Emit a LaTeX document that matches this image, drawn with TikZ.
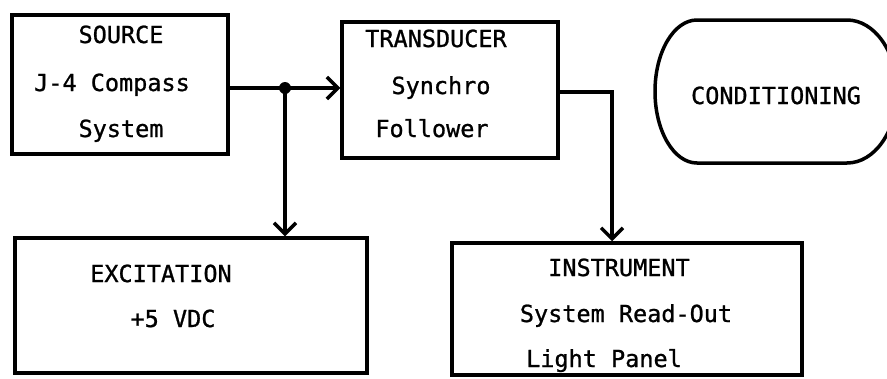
\documentclass[tikz,border=0pt]{standalone}
\usepackage{fontspec}
\newfontfamily\lblfont[FakeBold=1]{DejaVu Sans Mono}
\usetikzlibrary{arrows.meta}
\tikzset{
  box/.style={draw=black, line width=3.5pt, rectangle, inner sep=0pt},
  lbl/.style={font=\lblfont\fontsize{23.5}{26}\selectfont, anchor=base, inner sep=0pt},
  wire/.style={line width=3.5pt, line cap=round},
  arr/.style={wire, -{Straight Barb[length=11pt, width=22pt, line width=3.5pt]}},
}
\begin{document}
\begin{tikzpicture}[x=1pt, y=-1pt]
\useasboundingbox (0,0) rectangle (887,378);
% boxes
\node[box, minimum width=216pt, minimum height=139pt] (src) at (120,84.5) {};
\node[box, minimum width=216pt, minimum height=136pt] (tr) at (450,90) {};
\node[box, minimum width=352pt, minimum height=135pt] (ex) at (191,305.5) {};
\node[box, minimum width=350pt, minimum height=132pt] (in) at (627,309) {};
% conditioning (stadium, cut by the right edge)
\begin{scope}
\clip (0,0) rectangle (887,378);
\draw[line width=3.5pt] (697,20) -- (847,20)
  arc[start angle=90, end angle=-90, x radius=50pt, y radius=71.5pt]
  -- (697,163)
  arc[start angle=270, end angle=90, x radius=42pt, y radius=71.5pt] -- cycle;
\end{scope}
% texts
\node[lbl] (t1) at (121,43) {SOURCE};
\node[lbl] (t2) at (112,91) {J-4 Compass};
\node[lbl] (t3) at (121,137) {System};
\node[lbl] (t4) at (436,47) {TRANSDUCER};
\node[lbl] (t5) at (441,94) {Synchro};
\node[lbl] (t6) at (432,137) {Follower};
\node[lbl] (t7) at (776,104) {CONDITIONING};
\node[lbl] (t8) at (161,282) {EXCITATION};
\node[lbl] (t9) at (173,327) {+5 VDC};
\node[lbl] (t10) at (619,276) {INSTRUMENT};
\node[lbl] (t11) at (626,322) {System Read-Out};
\node[lbl] (t12) at (604,367) {Light Panel};
% connectors
\coordinate (j) at (285,88);
\coordinate (k) at (612,92);
\draw[wire] (src.east |- j) -- (j);
\draw[arr] (j) -- (j -| tr.west);
\draw[arr] (j) -- (j |- ex.north);
\fill (j) circle[radius=6pt];
\draw[arr] (tr.east |- k) -- (k) -- (k |- in.north);
\end{tikzpicture}
\end{document}
